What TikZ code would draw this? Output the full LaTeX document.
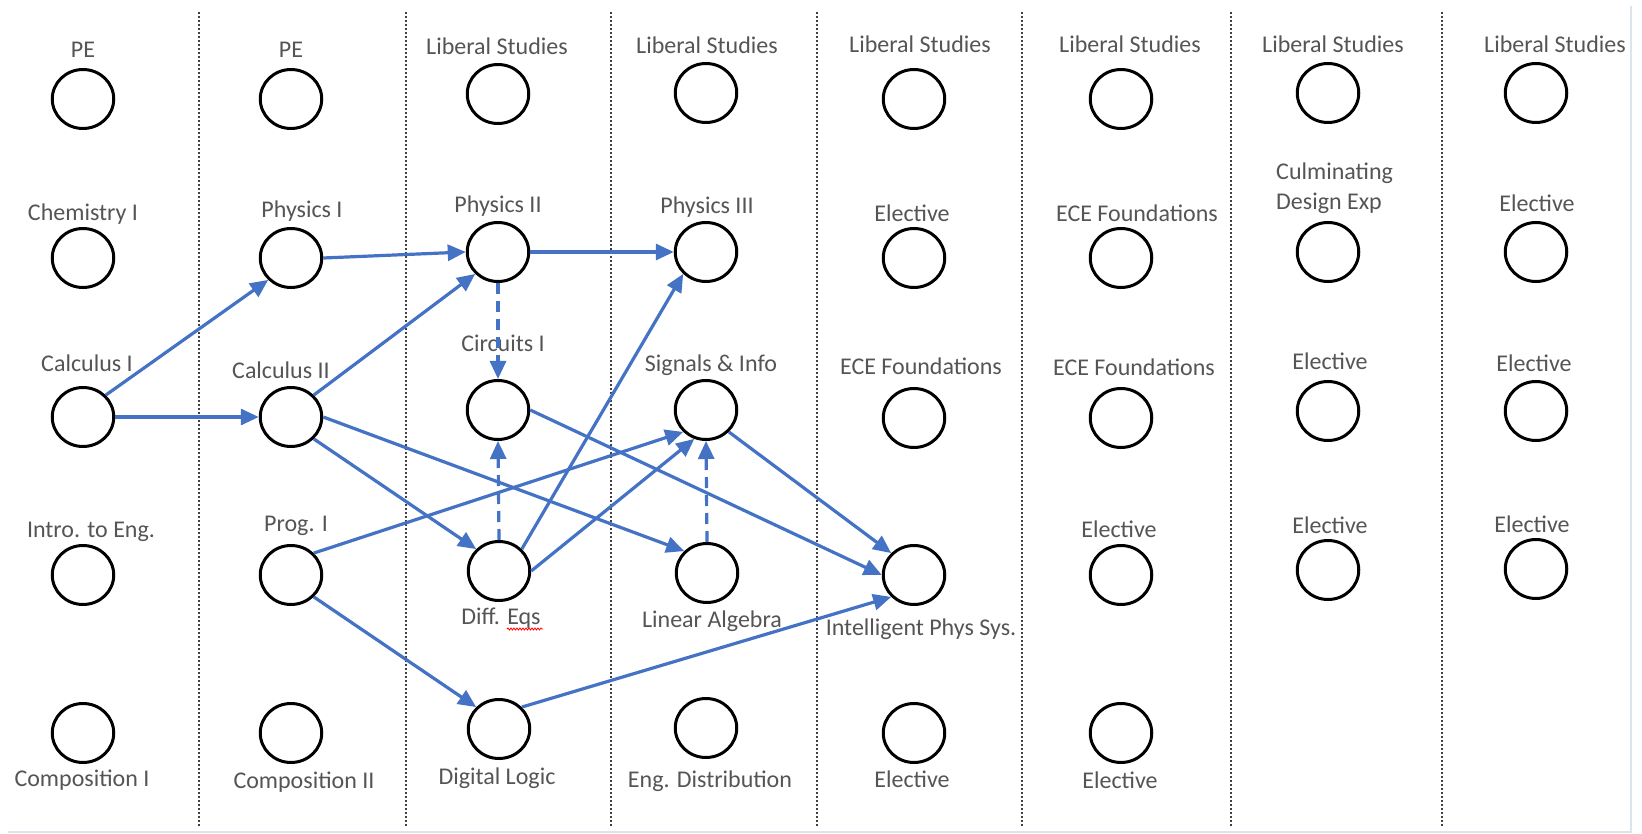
\documentclass[tikz,border=0pt]{standalone}
\usepackage{fontspec}
\setmainfont{Carlito}
\usetikzlibrary{arrows.meta,shapes.geometric,decorations.pathmorphing}
\definecolor{txtgray}{HTML}{555555}
\definecolor{arrblue}{HTML}{4472C4}
\definecolor{sepgray}{HTML}{404040}
\definecolor{framecol}{HTML}{DCE4EE}
\tikzset{
  course/.style={ellipse,draw=black,line width=3pt,minimum width=61.5pt,minimum height=59pt,inner sep=0pt},
  lbl/.style={anchor=base,text=txtgray,inner sep=0pt,font=\fontsize{24}{29}\selectfont},
  lblw/.style={lbl,anchor=base west},
  prereq/.style={draw=arrblue,line width=3.2pt,-{Triangle[length=18pt,width=16pt]}},
  coreq/.style={prereq,dash pattern=on 11pt off 7pt},
  sepline/.style={draw=sepgray,line width=1.1pt,dash pattern=on 2pt off 2pt},
}
\begin{document}
\begin{tikzpicture}[x=1pt,y=-1pt]
\useasboundingbox (0,0) rectangle (1642,834);
\fill[white] (0,0) rectangle (1642,834);
% faint frame
\draw[framecol,line width=1.5pt] (1631,6) -- (1631,832) -- (8,832);
% separators
\foreach \x in {199,406,611,817,1022,1231,1442}{
  \draw[sepline] (\x,12) -- (\x,827);
}
% circles
\node[course] (c11) at (83,99) {};
\node[course] (c12) at (83,258) {};
\node[course] (c13) at (83,417) {};
\node[course] (c14) at (83,575) {};
\node[course] (c15) at (83,733) {};
\node[course] (c21) at (291,99) {};
\node[course] (c22) at (291,258) {};
\node[course] (c23) at (291,417) {};
\node[course] (c24) at (291,575) {};
\node[course] (c25) at (291,733) {};
\node[course] (c31) at (498,94) {};
\node[course] (c32) at (498,252) {};
\node[course] (c33) at (498,410) {};
\node[course] (c34) at (499,571) {};
\node[course] (c35) at (499,729) {};
\node[course] (c41) at (706,93) {};
\node[course] (c42) at (706,252) {};
\node[course] (c43) at (706,410) {};
\node[course] (c44) at (707,573) {};
\node[course] (c45) at (706,728) {};
\node[course] (c51) at (914,99) {};
\node[course] (c52) at (914,258) {};
\node[course] (c53) at (914,418) {};
\node[course] (c54) at (914,575) {};
\node[course] (c55) at (914,733) {};
\node[course] (c61) at (1121,99) {};
\node[course] (c62) at (1121,258) {};
\node[course] (c63) at (1121,418) {};
\node[course] (c64) at (1121,575) {};
\node[course] (c65) at (1121,733) {};
\node[course] (c71) at (1328,93) {};
\node[course] (c72) at (1328,252) {};
\node[course] (c73) at (1328,411) {};
\node[course] (c74) at (1328,570) {};
\node[course] (c81) at (1536,93) {};
\node[course] (c82) at (1536,252) {};
\node[course] (c83) at (1536,411) {};
\node[course] (c84) at (1536,569) {};
% labels
\node[lbl] (l11) at (83,58) {PE};
\node[lbl] (l12) at (83,221) {Chemistry I};
\node[lbl] (l13) at (87,372) {Calculus I};
\node[lbl] (l14) at (91,537) {Intro. to Eng.};
\node[lbl] (l15) at (82,786) {Composition I};
\node[lbl] (l21) at (291,58) {PE};
\node[lbl] (l22) at (302,218) {Physics I};
\node[lbl] (l23) at (281,379) {Calculus II};
\node[lbl] (l24) at (296,531) {Prog. I};
\node[lbl] (l25) at (304,788) {Composition II};
\node[lbl] (l31) at (497,55) {Liberal Studies};
\node[lbl] (l32) at (498,213) {Physics II};
\node[lbl] (l33) at (503,352) {Circuits I};
\node[lbl] (l34) at (501,624) {Diff. Eqs};
\node[lbl] (l35) at (497,784) {Digital Logic};
\node[lbl] (l41) at (707,54) {Liberal Studies};
\node[lbl] (l42) at (707,214) {Physics III};
\node[lbl] (l43) at (711,372) {Signals \& Info};
\node[lbl] (l44) at (712,627) {Linear Algebra};
\node[lbl] (l45) at (710,787) {Eng. Distribution};
\node[lbl] (l51) at (920,53) {Liberal Studies};
\node[lbl] (l52) at (912,222) {Elective};
\node[lbl] (l53) at (921,374) {ECE Foundations};
\node[lbl] (l54) at (921,635) {Intelligent Phys Sys.};
\node[lbl] (l55) at (912,787) {Elective};
\node[lbl] (l61) at (1130,53) {Liberal Studies};
\node[lbl] (l62) at (1137,222) {ECE Foundations};
\node[lbl] (l63) at (1134,376) {ECE Foundations};
\node[lbl] (l64) at (1119,537) {Elective};
\node[lbl] (l65) at (1120,788) {Elective};
\node[lbl] (l71) at (1333,53) {Liberal Studies};
\node[lblw] (l72a) at (1276,180) {Culminating};
\node[lblw] (l72b) at (1276,210) {Design Exp};
\node[lbl] (l73) at (1330,370) {Elective};
\node[lbl] (l74) at (1330,533) {Elective};
\node[lbl] (l81) at (1555,53) {Liberal Studies};
\node[lbl] (l82) at (1537,212) {Elective};
\node[lbl] (l83) at (1534,371) {Elective};
\node[lbl] (l84) at (1532,532) {Elective};
% spell-check squiggle
\coordinate (sq1) at (507,629);
\coordinate (sq2) at (543,629);
\draw[red,line width=0.8pt,decorate,decoration={snake,segment length=3pt,amplitude=1pt}] (sq1) -- (sq2);
% prerequisites
\draw[prereq] (c13.north east) -- (c22.south west);
\draw[prereq] (c13.east) -- (c23.west);
\draw[prereq] (c22.east) -- (c32.west);
\draw[prereq] (c23.north east) -- (c32.south west);
\draw[prereq] (c32.east) -- (c42.west);
\draw[coreq] (c32.south) -- (c33.north);
\draw[prereq] (c23.east) -- (c44.north west);
\draw[prereq] (c23.south east) -- (c34.north west);
\draw[prereq] (c24.north east) -- (c43.south west);
\draw[prereq] (c34.north east) -- (c42.south west);
\draw[prereq] (c34.east) -- (c43.-112);
\draw[prereq] (c33.east) -- (c54.west);
\draw[prereq] (c43.south east) -- (c54.north west);
\draw[prereq] (c35.north east) -- (c54.south west);
\draw[prereq] (c24.south east) -- (c35.north west);
\draw[coreq] (c34.north) -- (c33.south);
\draw[coreq] (c44.north) -- (c43.south);
\end{tikzpicture}
\end{document}
